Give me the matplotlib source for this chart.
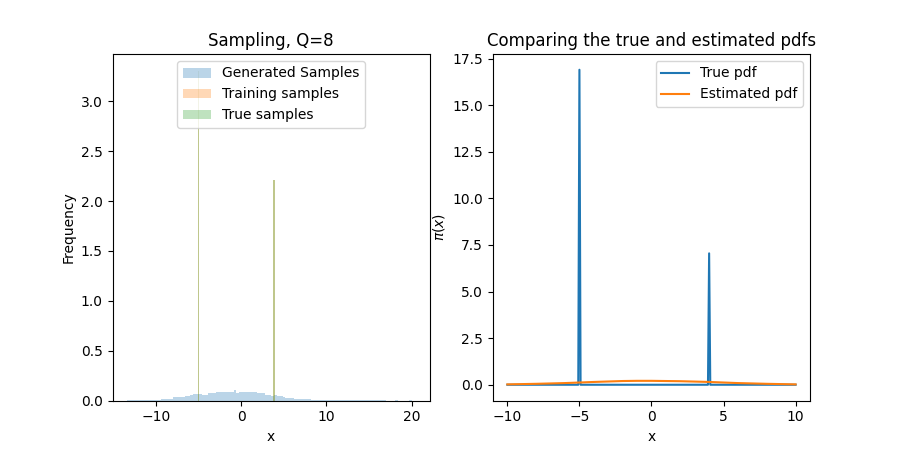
import numpy as np
import matplotlib
matplotlib.use("Agg")
import matplotlib.pyplot as plt

# generated samples histogram (density per bin)
gen_edges = np.linspace(-13.4, 20.4, 101)
gen_density = [
    0.01, 0.01, 0.01, 0.01, 0.01, 0.01, 0.01, 0.01, 0.01, 0.01, 0.01, 0.01,
    0.02, 0.02, 0.02, 0.02,
    0.033, 0.033, 0.033, 0.033,
    0.043, 0.043,
    0.057,
    0.067, 0.067, 0.067,
    0.06, 0.06,
    0.077, 0.077, 0.077,
    0.09, 0.09, 0.09, 0.09,
    0.085, 0.085,
    0.11,
    0.077,
    0.09, 0.09,
    0.083, 0.083,
    0.087, 0.087,
    0.077, 0.072,
    0.077,
    0.06, 0.055, 0.05,
    0.06,
    0.045, 0.045,
    0.038,
    0.03, 0.03, 0.03,
    0.02, 0.02, 0.02, 0.02,
    0.02, 0.017,
    0.01,
    0.008, 0.008, 0.008, 0.008, 0.008, 0.008, 0.008, 0.008, 0.008, 0.008,
    0.008, 0.008, 0.008, 0.008, 0.008, 0.008, 0.008, 0.008, 0.008, 0.008,
    0.008, 0.008, 0.008, 0.008, 0.008,
    0.0, 0.0, 0.0,
    0.005,
    0.0, 0.0, 0.0, 0.0,
    0.005,
    0.0,
]

# training / true samples: two narrow spikes
spike_x = [-5.05, 3.85]
train_density = [3.31, 2.21]
true_density = [3.31, 2.21]

# pdfs on [-10, 10]
true_x = [-10, -5.08, -5.0, -4.92, 3.92, 4.0, 4.08, 10]
true_pdf = [0, 0, 16.9, 0, 0, 7.05, 0, 0]
est_x = [-10, -8, -6, -4, -2, -1, 0, 2, 4, 6, 8, 10]
est_pdf = [0.02, 0.05, 0.09, 0.15, 0.20, 0.21, 0.21, 0.19, 0.15, 0.09, 0.05, 0.02]

gen_centers = (gen_edges[:-1] + gen_edges[1:]) / 2

fig, (ax1, ax2) = plt.subplots(1, 2, figsize=(9, 4.5), dpi=100)

ax1.hist(gen_centers, bins=gen_edges, weights=gen_density, alpha=0.3,
         color="C0", label="Generated Samples")
ax1.bar(spike_x, train_density, width=0.12, alpha=0.3, color="C1",
        label="Training samples")
ax1.bar(spike_x, true_density, width=0.12, alpha=0.3, color="C2",
        label="True samples")
ax1.set_title("Sampling, Q=8")
ax1.set_xlabel("x")
ax1.set_ylabel("Frequency")
ax1.legend(loc="upper center")

ax2.plot(true_x, true_pdf, label="True pdf")
ax2.plot(est_x, est_pdf, label="Estimated pdf")
ax2.set_title("Comparing the true and estimated pdfs")
ax2.set_xlabel("x")
ax2.set_ylabel(r"$\pi(x)$")
ax2.legend(loc="upper right")

fig.savefig("out.png")
